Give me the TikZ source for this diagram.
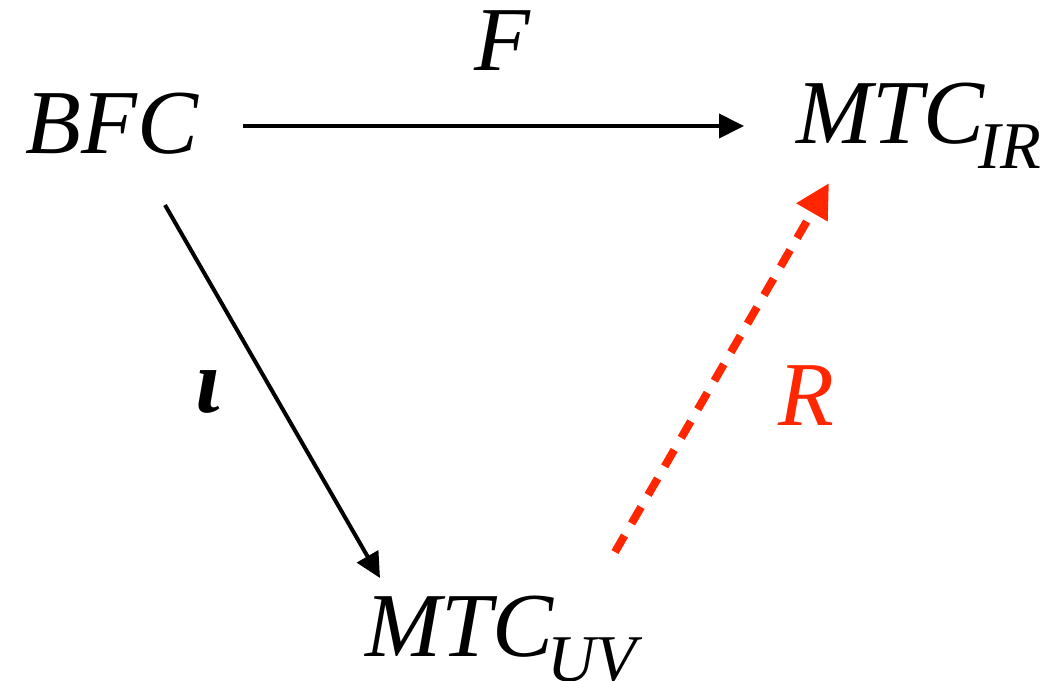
\documentclass[tikz,border=0pt]{standalone}
\usepackage{fontspec}
\setmainfont{Liberation Serif}
\usetikzlibrary{arrows.meta, positioning, calc}
\definecolor{catred}{RGB}{255,38,0}
\tikzset{
    >=Latex,
    cat_obj/.style={
        inner sep=0pt,
        anchor=base west,
        font=\fontsize{52}{60}\selectfont\itshape
    },
    cat_label/.style={
        inner sep=0pt,
        font=\fontsize{52}{60}\selectfont\itshape
    },
    cat_arrow/.style={
        -{Triangle[length=0.5cm, width=0.48cm]},
        line width=0.08cm
    },
    cat_dashed_arrow/.style={
        -{Triangle[length=0.68cm, width=0.68cm]},
        line width=0.16cm,
        dash pattern=on 0.38cm off 0.28cm,
        draw=catred
    }
}
\newcommand{\catsub}[1]{\hspace{-0.12cm}\raisebox{-0.5cm}{\fontsize{38}{38}\selectfont #1}}

\begin{document}
\begin{tikzpicture}

\useasboundingbox (0,0) rectangle (21,-13.62);

% Objects
\node[cat_obj] (BFC) at (0.5,-3.06) {BFC};
\node[cat_obj] (MTCIR) at (15.92,-2.86) {MTC\catsub{IR}};
\node[cat_obj] (MTCUV) at (7.3,-13.12) {MTC\catsub{UV}};

% Edges
\draw[cat_arrow] ($(BFC.base west)+(4.36,0.54)$) -- ($(MTCIR.base west)+(-1.04,0.34)$)
  node[cat_label, midway, above=1.08cm, xshift=0.18cm] (F) {F};
\draw[cat_arrow] ($(BFC.base west)+(2.8,-1.04)$) -- ($(MTCUV.base west)+(0.3,1.56)$)
  node[cat_label, midway, left=1.0cm] (iota) {\bfseries ι};
\draw[cat_dashed_arrow] ($(MTCUV.base west)+(5.0,2.08)$) -- ($(MTCIR.base west)+(0.66,-0.8)$)
  node[cat_label, midway, right=1.05cm, yshift=-0.56cm, text=catred] (R) {R};

\end{tikzpicture}
\end{document}
